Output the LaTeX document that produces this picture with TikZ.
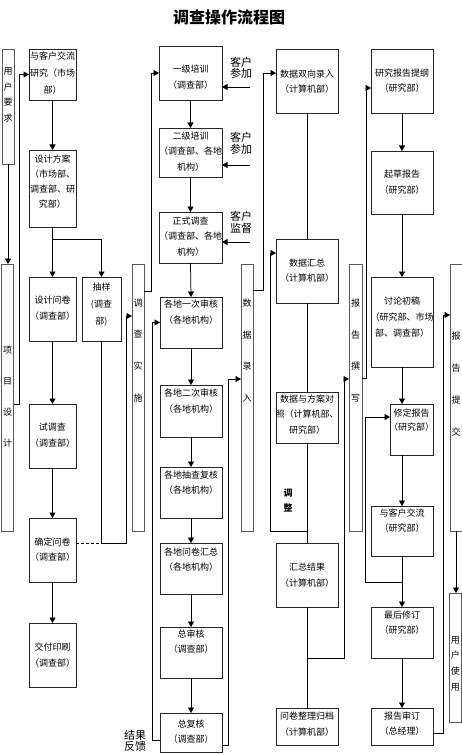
\documentclass[tikz,border=0pt]{standalone}
\usepackage{fontspec}
\setmainfont{Noto Sans CJK SC}
\usetikzlibrary{arrows.meta,calc}
\tikzset{
  box/.style={draw=black!85,line width=0.75pt,anchor=north west,inner sep=0pt,outer sep=0pt},
  bar/.style={draw=black!65,line width=0.75pt,anchor=north west,inner sep=0pt,outer sep=0pt},
  txt/.style={font=\fontsize{9}{15.5}\selectfont,align=center,inner sep=0pt},
  vtxt/.style={font=\fontsize{9}{31.7}\selectfont,align=center,inner sep=0pt},
  side/.style={font=\fontsize{11}{11.5}\selectfont,align=left,inner sep=0pt},
  flow/.style={line width=0.75pt,-{Triangle[length=5.5pt,width=6pt]}},
  link/.style={line width=0.75pt},
}
% [text style]{name}{x}{y}{w}{h}{text centre y}{text}
\newcommand{\mybox}[8][]{%
  \node[box,minimum width=#5pt,minimum height=#6pt] (#2) at (#3,#4) {};
  \node[txt,#1] (#2-t) at ({#3+#5/2},#7) {#8};}
\newcommand{\mybar}[8][]{%
  \node[bar,minimum width=#5pt,minimum height=#6pt] (#2) at (#3,#4) {};
  \node[vtxt,#1] (#2-t) at ({#3+#5/2},#7) {#8};}
\begin{document}
\begin{tikzpicture}[x=1pt,y=-1pt]
\useasboundingbox[fill=white] (0,0) rectangle (462,754);
\node[font=\fontsize{16}{16}\selectfont\bfseries] (title) at (229,17.5) {调查操作流程图};

% column 1
\mybox[font=\fontsize{9}{17}\selectfont]{b1}{29}{49}{47}{51}{73}{与客户交流\\研究（市场\\部）}
\mybox[font=\fontsize{9}{15}\selectfont]{b2}{29}{150}{47}{77}{181.5}{设计方案\\（市场部、\\调查部、研\\究部）}
\mybox{b3}{29}{277}{47}{64}{308}{设计问卷\\（调查部）}
\mybox[font=\fontsize{9}{17}\selectfont]{b4}{82}{277}{39}{64}{305}{抽样\\(调查\\部)}
\mybox{b5}{29}{404}{47}{64}{435}{试调查\\（调查部）}
\mybox{b6}{29}{518}{47}{64}{549.5}{确定问卷\\（调查部）}
\mybox{b7}{29}{623}{47}{64}{655}{交付印刷\\（调查部）}

% column 2
\mybox{c1}{159}{46}{63}{54}{77}{一级培训\\（调查部）}
\mybox{c2}{159}{128}{63}{49}{151.5}{二级培训\\（调查部、各地\\机构）}
\mybox{c3}{159}{212}{63}{51}{236.5}{正式调查\\（调查部、各地\\机构）}
\mybox{c4}{160}{297}{62}{51}{312}{各地一次审核\\（各地机构）}
\mybox{c5}{160}{385}{62}{52}{401}{各地二次审核\\（各地机构）}
\mybox{c6}{160}{467}{62}{51}{482.5}{各地抽查复核\\（各地机构）}
\mybox{c7}{160}{543}{62}{51}{559.5}{各地问卷汇总\\（各地机构）}
\mybox{c8}{160}{627}{62}{51}{641.5}{总审核\\（调查部）}
\mybox{c9}{160}{713}{62}{39.5}{731.5}{总复核\\（调查部）}

% column 3
\mybox{d1}{276}{49}{62}{64}{81.5}{数据双向录入\\（计算机部）}
\mybox{d2}{276}{239}{62}{64}{270.5}{数据汇总\\（计算机部）}
\mybox{d3}{276}{392}{62}{51}{414.5}{数据与方案对\\照（计算机部、\\研究部）}
\mybox{d4}{276}{543}{62}{64}{575}{汇总结果\\（计算机部）}
\mybox{d5}{276}{708}{62}{37}{724}{问卷整理归档\\（计算机部）}

% column 4
\mybox{e1}{371}{49}{62}{64}{80.5}{研究报告提纲\\（研究部）}
\mybox{e2}{371}{151}{62}{63}{182}{起草报告\\（研究部）}
\mybox[font=\fontsize{9}{16}\selectfont]{e3}{371}{277}{62}{90}{317}{讨论初稿\\（研究部、市场\\部、调查部）}
\mybox[font=\fontsize{9}{14.5}\selectfont]{e4}{390}{404}{43}{51}{420}{修定报告\\（研究部）}
\mybox{e5}{371}{506}{62}{50}{520.5}{与客户交流\\（研究部）}
\mybox{e6}{371}{607}{62}{51}{622.5}{最后修订\\（研究部）}
\mybox{e7}{371}{708}{62}{37}{723.5}{报告审订\\（总经理）}

% vertical bars
\mybar[font=\fontsize{9}{15.5}\selectfont]{r1}{2}{49}{12}{115}{95}{用\\户\\要\\求}
\mybar[font=\fontsize{9}{31}\selectfont]{r2}{1.5}{264}{12}{267}{396.5}{项\\目\\设\\计}
\mybar{r3}{132}{264}{12}{267}{350.5}{调\\查\\实\\施}
\mybar{r4}{241}{264}{12}{267}{350.5}{数\\据\\录\\入}
\mybar{r5}{349}{264}{13}{267}{350.5}{报\\告\\撰\\写}
\mybar[font=\fontsize{9}{32}\selectfont]{r6}{450}{264}{12}{267}{384}{报\\告\\提\\交}
\mybar[font=\fontsize{9}{15.7}\selectfont]{r7}{449}{593}{12.5}{129}{663.5}{用\\户\\使\\用}

% side labels
\node[side] (l1) at (241,68) {客户\\参加};
\node[side] (l2) at (241,143.5) {客户\\参加};
\node[side] (l3) at (241,222.5) {客户\\监督};
\node[side] (l4) at (135,741) {结果\\反馈};
\node[txt,font=\fontsize{9}{15}\selectfont\bfseries] (adj) at (288,500.5) {调\\整};

% connectors: column 1
\draw[flow] (r1.south) -- (r1.south |- r2.north);
\draw[flow] (r2.east |- b5.north) -- ++(5.5,0) |- (b1.west);
\draw[flow] (b1.south) -- (b2.north);
\draw[flow] (b2.south) -- (b3.north);
\draw[flow] ($(b2.south)+(0,12)$) -| (b4.north);
\draw[flow] (b3.south) -- (b5.north);
\draw[flow] (b5.south) -- (b6.north);
\draw[flow] (b6.south) -- (b7.north);
\coordinate (q1) at ($(b6.north east)+(0,25)$);
\coordinate (q2) at ($(q1 -| b4.south)+(25,0)$);
\draw[link,densely dashed] (q1) -- (q1 -| b4.south);
\draw[link] (b4.south) |- (q2);
\draw[flow] (q2) |- ($(r3.north west)+(0,52)$);

% column 2
\draw[flow] ($(r3.north east)+(0,27)$) -- ++(7,0) |- (c1.west);
\draw[flow] (c1.south) -- (c2.north);
\draw[flow] (c2.south) -- (c3.north);
\draw[flow] (c3.south) -- (c4.north);
\draw[flow] (c4.south) -- (c5.north);
\draw[flow] (c5.south) -- (c6.north);
\draw[flow] (c6.south) -- (c7.north);
\draw[flow] (c7.south) -- (c8.north);
\draw[flow] (c8.south) -- (c9.north);
\draw[flow] ($(c9.west)+(0,8)$) -- ++(-8,0) |- (c4.west);
\draw[flow] ($(c9.east)+(0,13)$) -- ++(6,0) |- ($(r4.west)+(0,-18.5)$);
\coordinate (k1) at ($(c1.east)+(28,14)$);
\coordinate (k2) at ($(c2.east)+(28,12.5)$);
\coordinate (k3) at ($(c3.east)+(28,4.5)$);
\draw[flow] (k1) -- (k1 -| c1.east);
\draw[flow] (k2) -- (k2 -| c2.east);
\draw[flow] (k3) -- (k3 -| c3.east);

% column 3
\draw[flow] ($(r4.north east)+(0,26)$) -- ++(10,0) |- ($(d1.west)+(0,-8)$);
\draw[link] (d1.south) -- (d2.north);
\draw[link] (d2.south) -- (d3.north);
\draw[link] (d3.south) -- (d4.north);
\draw[link] (d4.south) -- (d5.north);
\draw[flow] ($(d3.south)+(0,88)$) -- ++(-37,0) |- ($(d2.west)+(0,-18)$);
\draw[flow] ($(d4.south)+(0,51)$) -- ++(37,0) |- ($(r5.west)+(0,-18.5)$);

% column 4
\draw[flow] ($(r5.north east)+(0,114)$) -- ++(4,0) |- ($(e1.west)+(0,7)$);
\draw[flow] (e1.south) -- (e2.north);
\draw[flow] (e2.south) -- (e3.north);
\draw[flow] (e3.south) -- (e3.south |- e4.north);
\draw[flow] (e3.south |- e4.south) -- (e5.north);
\draw[flow] (e5.south) -- (e6.north);
\draw[flow] ($(e5.south)+(0,26)$) -- ++(-37,0) |- ($(e4.west)+(0,-12.5)$);
\draw[flow] (e6.south) -- (e7.north);
\draw[flow] ($(e7.east)+(0,6.5)$) -- ++(10,0) |- ($(r6.west)+(0,-82.5)$);
\draw[flow] (r6.south) -- (r6.south |- r7.north);
\end{tikzpicture}
\end{document}
